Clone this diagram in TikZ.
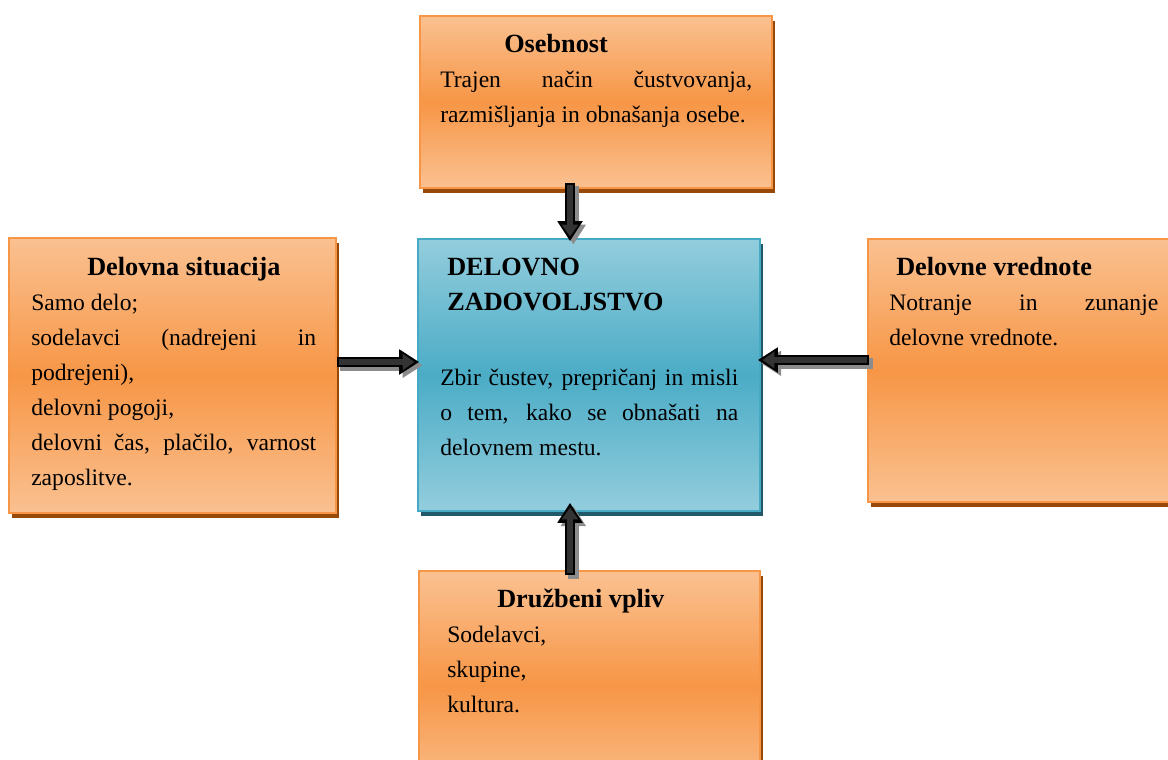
\documentclass[tikz,border=0pt]{standalone}
\usepackage{fontspec}
\setmainfont{Liberation Serif}
\usepackage{xcolor}
\usepackage{tikz}
\usetikzlibrary{arrows.meta, positioning, calc, shadows}

\definecolor{oranzsvetla}{HTML}{FAC191}
\definecolor{oranz}{HTML}{F79646}
\definecolor{oranzrob}{HTML}{F79646}
\definecolor{oranzsenca}{HTML}{984807}
\definecolor{modrasvetla}{HTML}{93CDDD}
\definecolor{modra}{HTML}{4BACC6}
\definecolor{modrarob}{HTML}{46AAC5}
\definecolor{modrasenca}{HTML}{215968}

\setlength{\parindent}{0pt}
\hyphenpenalty=10000 \exhyphenpenalty=10000 \tolerance=9999
\newcommand{\naslov}[1]{{\fontsize{19.7}{26.25}\selectfont\bfseries #1}}

\begin{document}
\begin{tikzpicture}[x=0.75pt, y=-0.75pt,
  every node/.style={font=\fontsize{17.7}{26.25}\selectfont},
  okvir/.style={draw=oranzrob, line width=1.2pt, inner sep=0pt,
    top color=oranzsvetla, bottom color=oranzsvetla, middle color=oranz,
    drop shadow={shadow xshift=2.5pt, shadow yshift=-3.5pt, fill=oranzsenca, opacity=1}},
  jedro/.style={okvir, draw=modrarob,
    top color=modrasvetla, bottom color=modrasvetla, middle color=modra,
    drop shadow={shadow xshift=2.5pt, shadow yshift=-3.5pt, fill=modrasenca, opacity=1}},
  besedilo/.style={anchor=base west, inner sep=0pt, align=justify, text width=#1},
  puscica/.style={line width=8pt, black, -{Triangle[length=15pt,width=18pt]},
    preaction={draw=black!45, line width=8pt, -{Triangle[length=15pt,width=18pt]},
      transform canvas={shift={(2.5pt,-2.5pt)}}},
    postaction={draw=black!80, line width=4.5pt, -{Triangle[length=9pt,width=12pt]},
      shorten >=3.5pt, shorten <=1.5pt}}]
  \useasboundingbox (0,0) rectangle (1168,760);
  \clip (0,0) rectangle (1168,760);

  \node[okvir, minimum width=264pt, minimum height=129pt] (osebnost) at (596,102) {};
  \node[jedro, minimum width=256.5pt, minimum height=204pt] (zadovoljstvo) at (589,375) {};
  \node[okvir, minimum width=245.25pt, minimum height=206.25pt] (situacija) at (172.5,375.5) {};
  \node[okvir, minimum width=232.5pt, minimum height=197.25pt] (vrednote) at (1023,370.5) {};
  \node[okvir, minimum width=255.75pt, minimum height=172.5pt] (vpliv) at (589.5,686) {};

  \node[besedilo=234pt] (osebnost-t) at (440,52)
    {\hspace*{48pt}\naslov{Osebnost}\\ Trajen način čustvovanja,\linebreak razmišljanja in obnašanja osebe.};
  \node[besedilo=223.5pt] (zadovoljstvo-t) at (440,275)
    {\hspace*{5.25pt}\naslov{DELOVNO}\\ \hspace*{5.25pt}\naslov{ZADOVOLJSTVO}\\[30pt]
     Zbir čustev, prepričanj in misli\linebreak o tem, kako se obnašati na\linebreak delovnem mestu.};
  \node[besedilo=213.75pt] (situacija-t) at (31,275)
    {\hspace*{42pt}\naslov{Delovna situacija}\\ Samo delo;\\ sodelavci (nadrejeni in\linebreak podrejeni),\\
     delovni pogoji,\\ delovni čas, plačilo, varnost\linebreak zaposlitve.};
  \node[besedilo=201.75pt] (vrednote-t) at (889,275)
    {\hspace*{5.25pt}\naslov{Delovne vrednote}\\ Notranje in zunanje\linebreak delovne vrednote.};
  \node[besedilo=220pt] (vpliv-t) at (447,607)
    {\hspace*{37.5pt}\naslov{Družbeni vpliv}\\ Sodelavci,\\ skupine,\\ kultura.};

  \draw[puscica] ($(osebnost.south)+(-26,-6)$) -- ($(zadovoljstvo.north)+(-19,3)$);
  \draw[puscica] ($(situacija.east)+(0,-13.5)$) -- ($(zadovoljstvo.west)+(2,-13)$);
  \draw[puscica] ($(vrednote.west)+(2,-10.5)$) -- ($(zadovoljstvo.east)+(-3,-15)$);
  \draw[puscica] ($(vpliv.north)+(-19.5,5)$) -- ($(zadovoljstvo.south)+(-19,-9)$);
\end{tikzpicture}
\end{document}
